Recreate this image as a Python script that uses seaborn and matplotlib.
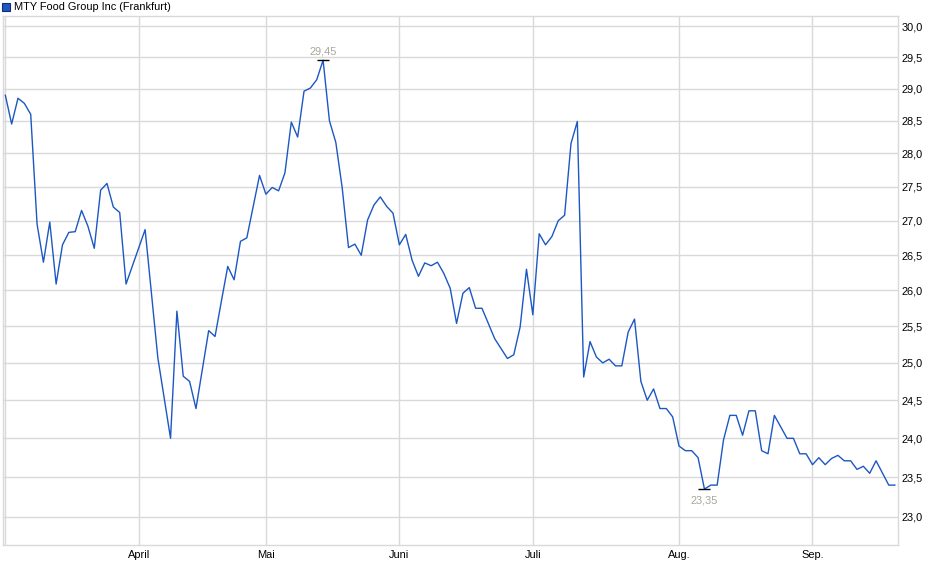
import numpy as np
import pandas as pd
import matplotlib
matplotlib.use('Agg')
import matplotlib.pyplot as plt
import seaborn as sns
from matplotlib.patches import Rectangle
from matplotlib.ticker import FixedLocator, NullLocator

# trading day index (vertices) and close price in EUR
day = [0, 1, 2, 3, 4, 5, 6, 7, 8, 9, 10, 11, 12, 13, 14, 15, 16, 17, 18, 19,
       22, 24, 26, 27, 28, 29, 30, 32, 33, 34, 35, 36, 37, 38, 40, 41, 42, 43, 44,
       45, 46, 47, 48, 49, 50, 51, 52, 53, 54, 55, 56, 57, 58, 59, 60, 61, 62, 63,
       64, 65, 66, 67, 68, 69, 70, 71, 72, 73, 74, 75, 77, 79, 80, 81, 82, 83, 84,
       85, 86, 87, 88, 89, 90, 91, 92, 93, 94, 95, 96, 97, 98, 99, 100, 101, 102,
       103, 104, 105, 106, 107, 108, 109, 110, 111, 112, 113, 114, 115, 116, 117,
       118, 119, 120, 121, 122, 123, 124, 125, 126, 127, 128, 129, 130, 131, 132,
       133, 134, 135, 136, 137, 139, 140]
price = [28.90, 28.45, 28.85, 28.77, 28.60, 26.95, 26.40, 26.98, 26.09, 26.65,
         26.83, 26.84, 27.15, 26.92, 26.60, 27.45, 27.55, 27.20, 27.12, 26.09,
         26.87, 25.07, 24.00, 25.71, 24.82, 24.75, 24.39, 25.44, 25.36, 25.85,
         26.34, 26.15, 26.70, 26.75, 27.67, 27.39, 27.49, 27.44, 27.71,
         28.48, 28.25, 28.96, 29.01, 29.14, 29.45, 28.50, 28.17, 27.49, 26.61,
         26.66, 26.50, 27.01, 27.23, 27.35, 27.21, 27.11, 26.65, 26.80,
         26.43, 26.20, 26.39, 26.35, 26.40, 26.24, 26.03, 25.54, 25.96, 26.04,
         25.75, 25.75, 25.33, 25.06, 25.11, 25.49, 26.30, 25.66, 26.81,
         26.65, 26.77, 27.00, 27.08, 28.15, 28.49, 24.81, 25.29, 25.08, 25.00,
         25.05, 24.96, 24.96, 25.42, 25.60, 24.75, 24.50, 24.65,
         24.39, 24.39, 24.28, 23.90, 23.84, 23.84, 23.75, 23.35, 23.40, 23.40,
         23.98, 24.30, 24.30, 24.04, 24.36,
         24.36, 23.84, 23.80, 24.30, 24.15, 24.00, 24.00, 23.80, 23.80, 23.66,
         23.75, 23.66, 23.74, 23.78, 23.71,
         23.71, 23.60, 23.64, 23.55, 23.71, 23.40, 23.40]

month_pos = [21, 41, 62, 83, 106, 127]
month_labels = ['April', 'Mai', 'Juni', 'Juli', 'Aug.', 'Sep.']
y_ticks = [23.0, 23.5, 24.0, 24.5, 25.0, 25.5, 26.0, 26.5, 27.0, 27.5,
           28.0, 28.5, 29.0, 29.5, 30.0]

df = pd.DataFrame({'day': day, 'price': price})

sns.set_style('white')
plt.rcParams['font.family'] = ['Liberation Sans', 'DejaVu Sans']

line_col = '#1c57c4'
grid_col = '#d9d9d9'
fs = 7.9

fig = plt.figure(figsize=(9.4, 5.79), dpi=100)
ax = fig.add_axes([3 / 940, 1 - 545.3 / 579, 895.3 / 940, 529.3 / 579])

ax.set_yscale('log')
ax.set_ylim(22.65, 30.163)
ax.set_xlim(-0.36, 140.5)

# grid
for v in y_ticks:
    ax.axhline(v, color=grid_col, lw=1.0, zorder=0)
for p in month_pos + [0]:
    ax.axvline(p, color=grid_col, lw=1.0, zorder=0)

sns.lineplot(data=df, x='day', y='price', ax=ax, color=line_col, lw=1.0,
             legend=False, zorder=3)

# high / low markers
i_max = int(np.argmax(price))
i_min = int(np.argmin(price))
for i, dy in [(i_max, 3.0), (i_min, -4.5)]:
    ax.plot(day[i], price[i], marker='_', ms=9, mew=1.0, color='black', zorder=4)
    ax.annotate(f'{price[i]:.2f}'.replace('.', ','), (day[i], price[i]),
                xytext=(0, dy), textcoords='offset points', ha='center',
                va='bottom' if dy > 0 else 'top', fontsize=fs, color='#a9a49c')

# axes styling
for s in ax.spines.values():
    s.set_color(grid_col)
    s.set_linewidth(1.0)

ax.yaxis.tick_right()
ax.yaxis.set_major_locator(FixedLocator(y_ticks))
ax.yaxis.set_minor_locator(NullLocator())
ax.set_yticklabels([f'{v:.1f}'.replace('.', ',') for v in y_ticks])
ax.xaxis.set_major_locator(FixedLocator(month_pos))
ax.set_xticklabels(month_labels)
ax.tick_params(axis='both', length=0, labelsize=fs, colors='black')
ax.tick_params(axis='y', pad=2.5)
ax.tick_params(axis='x', pad=3.5)
ax.set_xlabel('')
ax.set_ylabel('')

# legend in top-left corner
fig.patches.append(Rectangle((1.5 / 940, 1 - 10.5 / 579), 8 / 940, 8 / 579,
                             transform=fig.transFigure, facecolor=line_col,
                             edgecolor='#0d2f70', lw=0.8))
fig.text(14 / 940, 1 - 6.5 / 579, 'MTY Food Group Inc (Frankfurt)',
         fontsize=fs, va='center', ha='left', color='black')

fig.savefig('out.png', dpi=100)
